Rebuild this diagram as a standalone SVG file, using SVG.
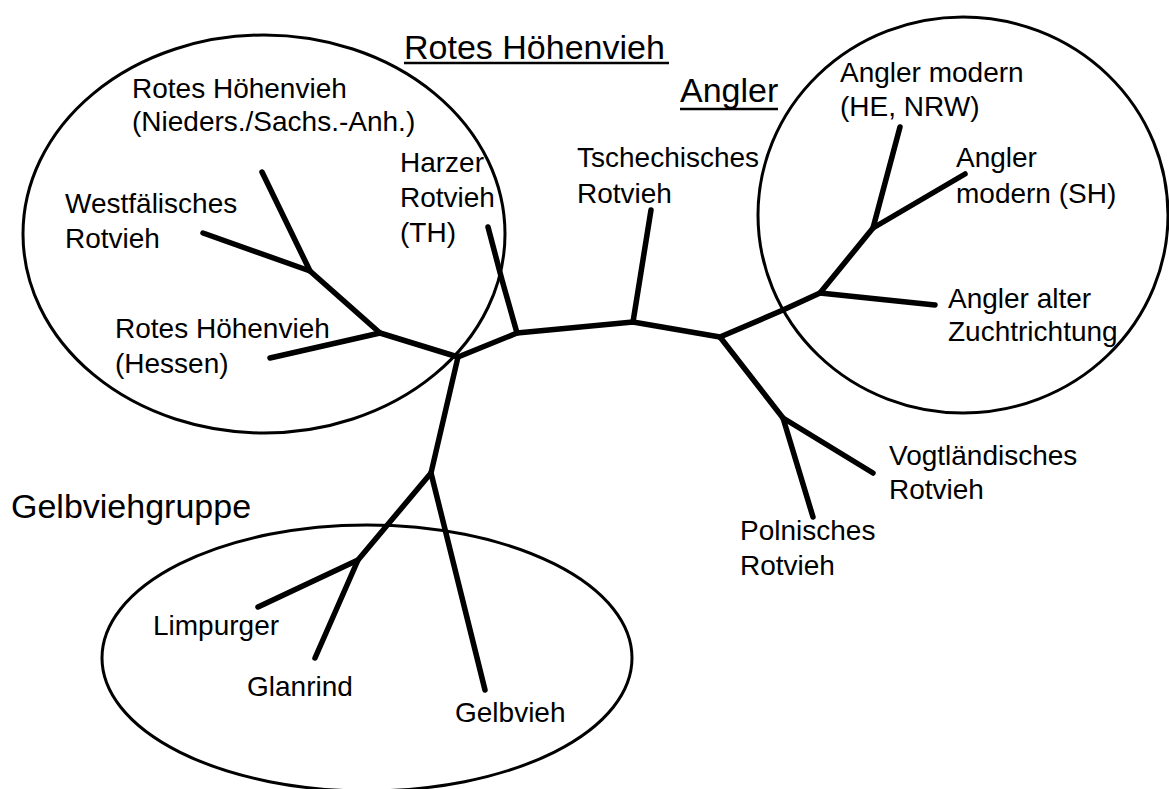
<svg xmlns="http://www.w3.org/2000/svg" width="1169" height="789" viewBox="0 0 1169 789">
<style>
text{font-family:"Liberation Sans",Arial,sans-serif;fill:#000}
.lbl{font-size:28px}
.ttl{font-size:34px}
.grp{fill:none;stroke:#000;stroke-width:3}
.br{fill:none;stroke:#000;stroke-width:5.5;stroke-linecap:round;stroke-linejoin:round}
.ul{stroke:#000;stroke-width:2.5}
</style>
<rect width="1169" height="789" fill="#fff"/>
<g id="clusters">
<ellipse id="cluster-rotes" class="grp" cx="264" cy="234" rx="241" ry="199"/>
<ellipse id="cluster-angler" class="grp" cx="963" cy="215" rx="205" ry="198"/>
<ellipse id="cluster-gelb" class="grp" cx="367" cy="658" rx="265" ry="133"/>
</g>
<g id="connectors">
<polyline class="br" points="458,357 517,333 633,322 720,337"/>
<polyline class="br" points="458,357 380,333 310,271 203,233"/>
<line class="br" x1="310" y1="271" x2="262" y2="172"/>
<line class="br" x1="380" y1="333" x2="270" y2="358"/>
<polyline class="br" points="517,333 502,280 488,227"/>
<line class="br" x1="633" y1="322" x2="651" y2="210"/>
<polyline class="br" points="720,337 783,310 820,293 873,228 965,174"/>
<line class="br" x1="873" y1="228" x2="900" y2="127"/>
<line class="br" x1="820" y1="293" x2="935" y2="305"/>
<polyline class="br" points="720,337 783,418 873,473"/>
<line class="br" x1="783" y1="418" x2="813" y2="517"/>
<polyline class="br" points="458,357 431,473 358,560 258,607"/>
<line class="br" x1="358" y1="560" x2="315" y2="658"/>
<line class="br" x1="431" y1="473" x2="485" y2="690"/>
</g>
<g id="title-rotes"><text class="ttl" x="404" y="59">Rotes Höhenvieh</text><line class="ul" x1="404" y1="63" x2="669" y2="63"/></g>
<g id="title-angler"><text class="ttl" x="680" y="102">Angler</text><line class="ul" x1="680" y1="109" x2="778" y2="109"/></g>
<g id="title-gelb"><text class="ttl" x="11" y="518">Gelbviehgruppe</text></g>
<g id="node-rh-nieders"><text class="lbl" x="132" y="98">Rotes Höhenvieh</text><text class="lbl" x="132" y="131">(Nieders./Sachs.-Anh.)</text></g>
<g id="node-westf"><text class="lbl" x="65" y="213">Westfälisches</text><text class="lbl" x="65" y="248">Rotvieh</text></g>
<g id="node-harzer"><text class="lbl" x="400" y="172">Harzer</text><text class="lbl" x="400" y="207">Rotvieh</text><text class="lbl" x="400" y="242">(TH)</text></g>
<g id="node-rh-hessen"><text class="lbl" x="115" y="338">Rotes Höhenvieh</text><text class="lbl" x="115" y="373">(Hessen)</text></g>
<g id="node-tschech"><text class="lbl" x="577" y="167">Tschechisches</text><text class="lbl" x="577" y="203">Rotvieh</text></g>
<g id="node-angler-he"><text class="lbl" x="840" y="82">Angler modern</text><text class="lbl" x="840" y="116">(HE, NRW)</text></g>
<g id="node-angler-sh"><text class="lbl" x="956" y="167">Angler</text><text class="lbl" x="956" y="203">modern (SH)</text></g>
<g id="node-angler-alt"><text class="lbl" x="948" y="308">Angler alter</text><text class="lbl" x="948" y="341">Zuchtrichtung</text></g>
<g id="node-vogt"><text class="lbl" x="889" y="465">Vogtländisches</text><text class="lbl" x="889" y="499">Rotvieh</text></g>
<g id="node-poln"><text class="lbl" x="740" y="540">Polnisches</text><text class="lbl" x="740" y="575">Rotvieh</text></g>
<g id="node-limp"><text class="lbl" x="153" y="635">Limpurger</text></g>
<g id="node-glan"><text class="lbl" x="247" y="696">Glanrind</text></g>
<g id="node-gelbvieh"><text class="lbl" x="455" y="722">Gelbvieh</text></g>
</svg>
